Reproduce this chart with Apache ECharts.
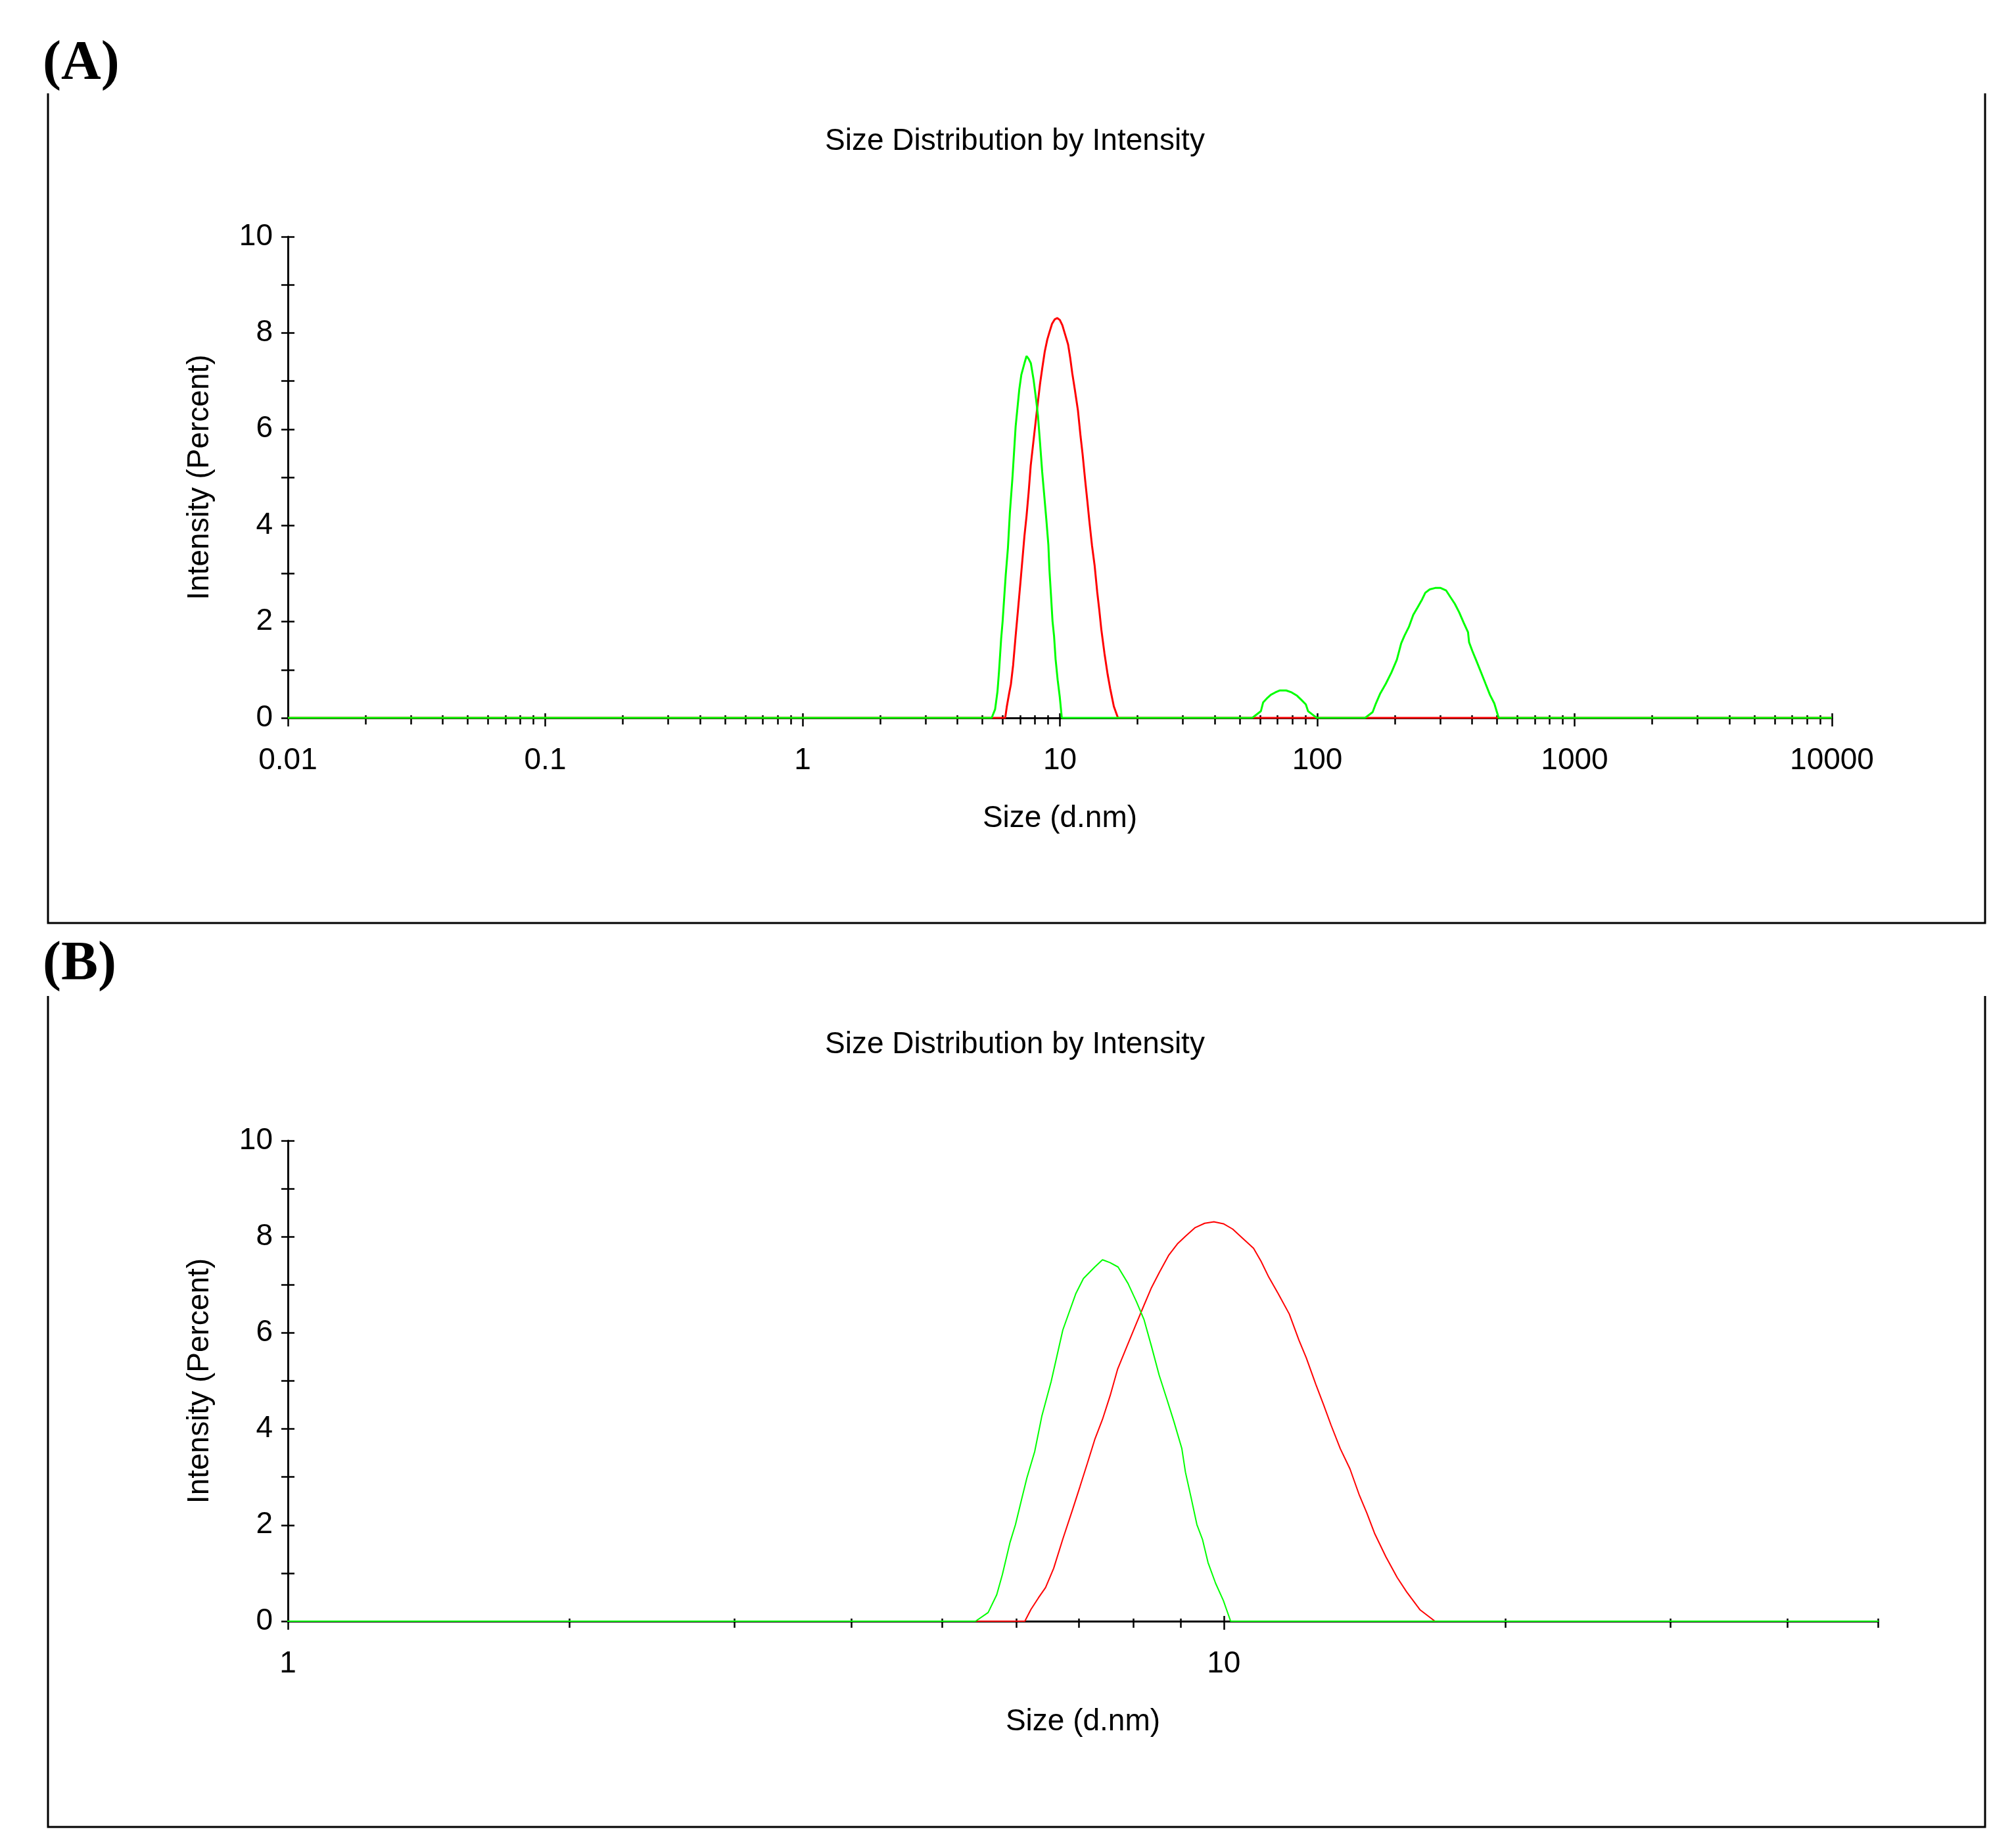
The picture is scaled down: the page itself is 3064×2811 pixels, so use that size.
<!DOCTYPE html>
<html>
<head>
<meta charset="utf-8">
<script src="https://cdn.jsdelivr.net/npm/echarts@6/dist/echarts.min.js"></script>
<style>
    html, body {margin: 0; padding: 0; background: #fff;}
    #charts {width: 3064px; height: 2811px;}
</style>
</head>
<body>
<div id="charts"></div>
<script>
// sizes in nm, intensities in percent
var redSize = [0.01, 6.13, 6.22, 6.34, 6.45, 6.58, 6.73, 6.89, 7.02, 7.15, 7.28, 7.42, 7.56, 7.70, 7.88, 8.07, 8.22, 8.37, 8.53, 8.73, 8.93,
    9.10, 9.32, 9.54, 9.76, 9.99, 10.22, 10.46, 10.76, 10.96, 11.17, 11.43, 11.75, 12.03, 12.25, 12.54, 12.78, 13.02, 13.32, 13.64,
    13.96, 14.22, 14.49, 14.90, 15.32, 15.68, 16.20, 16.81, 10000];
var redIntensity = [0, 0, 0.24, 0.49, 0.70, 1.10, 1.71, 2.31, 2.80, 3.29, 3.78, 4.20, 4.69, 5.24, 5.72, 6.21, 6.58, 6.94, 7.25, 7.61, 7.86,
    8.01, 8.19, 8.28, 8.31, 8.27, 8.16, 7.98, 7.76, 7.49, 7.16, 6.82, 6.39, 5.85, 5.48, 4.93, 4.51, 4.08, 3.59, 3.17,
    2.62, 2.25, 1.83, 1.34, 0.91, 0.61, 0.24, 0, 0];

var greenSize = [0.01, 5.43, 5.60, 5.72, 5.80, 5.91, 5.99, 6.08, 6.16, 6.28, 6.39, 6.54, 6.73, 6.95, 7.08, 7.28, 7.42, 7.56, 7.71, 7.90,
    8.07, 8.22, 8.37, 8.53, 8.69, 8.85, 9.02, 9.10, 9.23, 9.36, 9.49, 9.62, 9.80, 9.99, 10.17,
    55.9, 60.4, 61.6, 64.1, 66.0, 68.7, 71.4, 75.7, 79.5, 83.5, 86.9, 90.3, 92.1, 95.8, 99.6,
    153.4, 164.1, 169.0, 175.8, 184.7, 194.1, 203.9, 211.9, 218.3, 227.0, 236.1, 245.6, 255.4, 263.0, 273.6, 287.3, 301.6,
    316.6, 329.2, 342.5, 356.3, 370.6, 385.4, 389.1, 400.6, 416.6, 433.5, 450.8, 468.9, 487.6, 507.0, 10000];
var greenIntensity = [0, 0, 0.18, 0.55, 0.97, 1.64, 2.01, 2.53, 2.98, 3.53, 4.26, 4.99, 6.06, 6.82, 7.13, 7.37, 7.52, 7.46, 7.37, 7.03,
    6.64, 6.27, 5.72, 5.12, 4.63, 4.14, 3.59, 3.10, 2.56, 2.01, 1.70, 1.22, 0.79, 0.43, 0,
    0, 0.14, 0.32, 0.42, 0.48, 0.53, 0.57, 0.57, 0.53, 0.46, 0.37, 0.28, 0.14, 0.07, 0,
    0, 0.12, 0.30, 0.51, 0.71, 0.94, 1.21, 1.55, 1.71, 1.89, 2.14, 2.30, 2.46, 2.60, 2.67, 2.70, 2.70,
    2.65, 2.51, 2.37, 2.19, 1.98, 1.78, 1.57, 1.39, 1.17, 0.94, 0.71, 0.48, 0.30, 0, 0];

// axis ticks and labels
var xLabelsA = [0.01, 0.1, 1, 10, 100, 1000, 10000];
var xMinorA = [];
xLabelsA.slice(0, -1).forEach(function (d) {
    for (var k = 2; k <= 9; k++) xMinorA.push(d * k);
});
var xLabelsB = [1, 10];
var xMinorB = [2, 3, 4, 5, 6, 7, 8, 9, 20, 30, 40, 50];
var yLabels = [0, 2, 4, 6, 8, 10];

var FONT = '"Liberation Sans", Arial, sans-serif';

var chartDom = document.getElementById('charts');
var myChart = echarts.init(chartDom);

function pairs(xs, ys) {
    return xs.map(function (x, i) { return [x, ys[i]]; });
}

function isLabel(list, v) {
    return list.some(function (l) { return Math.abs(Math.log10(l) - Math.log10(v)) < 1e-6; });
}

function mainXAxis(grid, min, max, labels) {
    return {
        type: 'log', logBase: 10, gridIndex: grid, min: min, max: max, position: 'bottom',
        axisLine: {onZero: false, lineStyle: {color: '#000', width: 3}},
        axisTick: {show: false},
        splitLine: {show: false},
        axisLabel: {
            color: '#000', fontSize: 46, fontFamily: FONT, margin: 42,
            formatter: function (v) { return isLabel(labels, v) ? String(v) : ''; }
        },
        name: 'Size (d.nm)', nameLocation: 'middle', nameGap: 130,
        nameTextStyle: {color: '#000', fontSize: 46, fontFamily: FONT}
    };
}

// tick-only axis in log10 space so ticks can sit at 2..9 of each decade
function tickXAxis(grid, min, max, values, offset, length) {
    return {
        type: 'value', gridIndex: grid, position: 'bottom', offset: offset,
        min: Math.log10(min), max: Math.log10(max),
        axisLine: {show: false, onZero: false},
        axisLabel: {show: false},
        splitLine: {show: false},
        axisTick: {
            show: true, inside: true, length: length,
            customValues: values.map(function (v) { return Math.log10(v); }),
            lineStyle: {color: '#000', width: 2.5}
        }
    };
}

function mainYAxis(grid) {
    return {
        type: 'value', gridIndex: grid, min: 0, max: 10, interval: 1, position: 'left',
        axisLine: {show: true, onZero: false, lineStyle: {color: '#000', width: 3}},
        axisTick: {show: false},
        splitLine: {show: false},
        axisLabel: {
            color: '#000', fontSize: 46, fontFamily: FONT, margin: 23,
            formatter: function (v) { return yLabels.indexOf(v) >= 0 ? String(v) : ''; }
        },
        name: 'Intensity (Percent)', nameLocation: 'middle', nameGap: 111, nameRotate: 90,
        nameTextStyle: {color: '#000', fontSize: 46, fontFamily: FONT}
    };
}

function tickYAxis(grid) {
    return {
        type: 'value', gridIndex: grid, min: 0, max: 10, interval: 1, position: 'left', offset: 10,
        axisLine: {show: false, onZero: false},
        axisLabel: {show: false},
        splitLine: {show: false},
        axisTick: {show: true, inside: true, length: 20, lineStyle: {color: '#000', width: 2.5}}
    };
}

function curve(name, xs, ys, color, xi, yi, width, z) {
    return {
        name: name, type: 'line', xAxisIndex: xi, yAxisIndex: yi,
        data: pairs(xs, ys), showSymbol: false, z: z,
        lineStyle: {color: color, width: width}
    };
}

function box(top, bottom) {
    return {
        type: 'polyline',
        shape: {points: [[73, top], [73, bottom], [3020, bottom], [3020, top]]},
        style: {stroke: '#000', lineWidth: 3, fill: null}
    };
}

function text(str, x, y, font, align) {
    return {
        type: 'text', x: x, y: y,
        style: {text: str, font: font, fill: '#000', align: align, verticalAlign: 'middle'}
    };
}

option = {
    animation: false,
    backgroundColor: '#fff',
    grid: [
        {left: 438, right: 277, top: 360, height: 732},
        {left: 438, right: 207, top: 1735, height: 731}
    ],
    xAxis: [
        mainXAxis(0, 0.01, 10000, xLabelsA),
        tickXAxis(0, 0.01, 10000, xLabelsA, 13, 20),
        tickXAxis(0, 0.01, 10000, xMinorA, 10, 14),
        mainXAxis(1, 1, 50, xLabelsB),
        tickXAxis(1, 1, 50, xLabelsB, 13, 21),
        tickXAxis(1, 1, 50, xMinorB, 10, 14)
    ],
    yAxis: [mainYAxis(0), tickYAxis(0), mainYAxis(1), tickYAxis(1)],
    series: [
        curve('red A', redSize, redIntensity, '#ff0000', 0, 0, 3, 3),
        curve('green A', greenSize, greenIntensity, '#00ff00', 0, 0, 3, 4),
        curve('red B', redSize, redIntensity, '#ff0000', 3, 2, 2, 3),
        curve('green B', greenSize, greenIntensity, '#00ff00', 3, 2, 2, 4)
    ],
    graphic: [
        box(142, 1404),
        box(1515, 2779),
        text('(A)', 65, 98, 'bold 84px "Liberation Serif", "Times New Roman", serif', 'left'),
        text('(B)', 65, 1468, 'bold 84px "Liberation Serif", "Times New Roman", serif', 'left'),
        text('Size Distribution by Intensity', 1544, 215, '46px ' + FONT, 'center'),
        text('Size Distribution by Intensity', 1544, 1589, '46px ' + FONT, 'center')
    ]
};
myChart.setOption(option);
</script>
</body>
</html>
